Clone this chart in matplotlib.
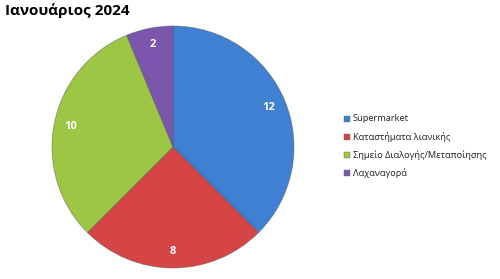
import matplotlib
matplotlib.use("Agg")
import matplotlib.pyplot as plt
from matplotlib.patches import Rectangle

title = "Ιανουάριος 2024"
categories = ["Supermarket", "Καταστήματα λιανικής", "Σημείο Διαλογής/Μεταποίησης", "Λαχαναγορά"]
values = [12, 8, 10, 2]
colors = ["#3f80d2", "#d64545", "#9cc644", "#7c55ad"]

plt.rcParams['font.family'] = ['Open Sans', 'DejaVu Sans']

fig = plt.figure(figsize=(5.0, 2.79), dpi=100)
W, H = 500, 279
cx, cy, r = 173, 147, 121
ax = fig.add_axes([(cx - r) / W, (H - cy - r) / H, 2 * r / W, 2 * r / H])

total = sum(values)
wedges, texts, autotexts = ax.pie(
    values, colors=colors, startangle=90, counterclock=False,
    autopct=lambda p: f"{round(p * total / 100):d}", pctdistance=0.86,
    wedgeprops=dict(edgecolor="#55555580", linewidth=0.6),
    textprops=dict(color="white", fontsize=8, fontweight="bold"),
)
ax.set_xlim(-1.0, 1.0)
ax.set_ylim(-1.0, 1.0)
ax.set_aspect('auto')

fig.text(5 / W, 1 - 11 / H, title, fontsize=11, fontweight="bold", va="center", ha="left")

ys = [119, 137, 155, 173]
for y, lab, col in zip(ys, categories, colors):
    fig.patches.append(Rectangle((344 / W, 1 - (y + 3) / H), 6 / W, 6 / H,
                                 transform=fig.transFigure, facecolor=col,
                                 edgecolor="#666666", linewidth=0.3))
    fig.text(353 / W, 1 - y / H, lab, fontsize=6.7, va="center", ha="left", color="#222222")

fig.savefig("out.png", dpi=100)
